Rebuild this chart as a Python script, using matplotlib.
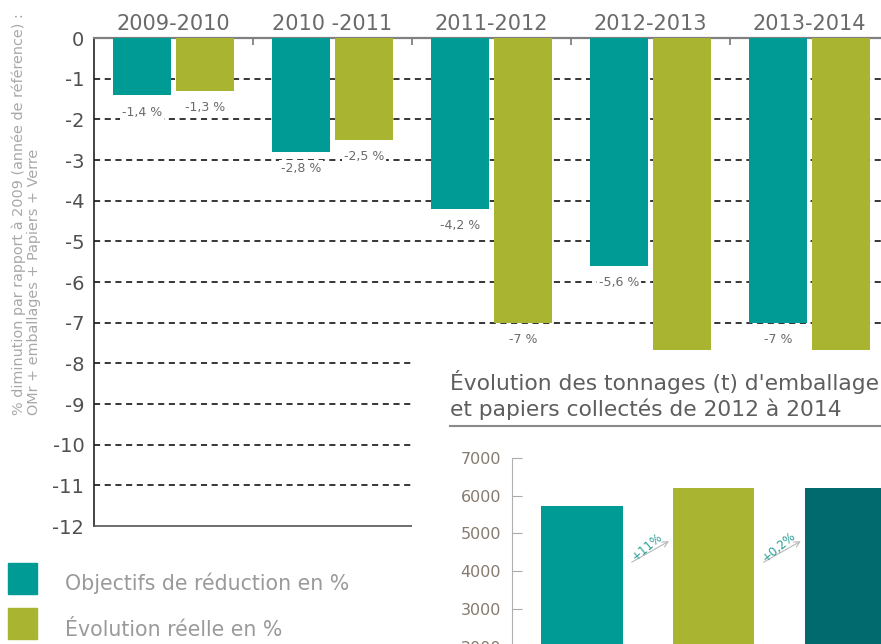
import matplotlib.pyplot as plt
import matplotlib.patches as mpatches
import numpy as np

plt.rcParams['font.family'] = 'DejaVu Sans'
plt.rcParams['axes.unicode_minus'] = False

# objectifs vs evolution reelle (% par rapport a 2009)
periodes = ['2009-2010', '2010 -2011', '2011-2012', '2012-2013', '2013-2014']
objectifs = [-1.4, -2.8, -4.2, -5.6, -7.0]
reel = [-1.3, -2.5, -7.0, -8.6, -9.0]
lbl_obj = ['-1,4 %', '-2,8 %', '-4,2 %', '-5,6 %', '-7 %']
lbl_reel = ['-1,3 %', '-2,5 %', '-7 %', '', '']

# tonnages emballages + papiers
annees = ['2012', '2013', '2014']
tonnages = [5720, 6200, 6210]
evol = ['+11%', '+0,2%']

TEAL = '#009b94'
OLIVE = '#a9b531'
DARK = '#006a6e'

fig = plt.figure(figsize=(8.81, 6.44), dpi=100)

W, H = 881, 644
def box(x0, y0, x1, y1):
    return [x0 / W, 1 - y1 / H, (x1 - x0) / W, (y1 - y0) / H]

ax = fig.add_axes(box(94, 38, 881, 526))
x = np.arange(len(periodes))
bw = 0.365
off = 0.198
ax.bar(x - off, objectifs, bw, color=TEAL, zorder=3)
ax.bar(x + off, reel, bw, color=OLIVE, zorder=3)

for i in range(len(x)):
    ax.text(x[i] - off, objectifs[i] - 0.42, lbl_obj[i], ha='center', va='center',
            fontsize=9, color='#6a6a6a', zorder=4,
            bbox=dict(facecolor='white', edgecolor='none', pad=1.5))
    if lbl_reel[i]:
        ax.text(x[i] + off, reel[i] - 0.42, lbl_reel[i], ha='center', va='center',
                fontsize=9, color='#6a6a6a', zorder=4,
                bbox=dict(facecolor='white', edgecolor='none', pad=1.5))

ax.set_xlim(-0.5, 4.45)
ax.set_ylim(-12, 0)
yt = np.arange(0, -13, -1)
ax.set_yticks(yt)
ax.set_yticklabels([str(v) for v in yt], fontsize=14, color='#505050')
ax.tick_params(axis='y', length=0, pad=7)

ax.xaxis.tick_top()
ax.set_xticks(x)
ax.set_xticklabels(periodes, fontsize=15, color='#6a6a6a')
ax.set_xticks(x[:-1] + 0.5, minor=True)
ax.tick_params(axis='x', which='major', length=0, pad=3)
ax.tick_params(axis='x', which='minor', direction='in', length=5, color='#777777', width=1.2)

for v in yt[1:-1]:
    ax.axhline(v, color='black', lw=1.1, ls=(0, (4, 3)), zorder=1)

ax.spines['right'].set_visible(False)
ax.spines['top'].set_color('#808080')
ax.spines['top'].set_linewidth(1.6)
ax.spines['left'].set_color('#222222')
ax.spines['left'].set_linewidth(1.2)
ax.spines['bottom'].set_color('#555555')
ax.spines['bottom'].set_linewidth(1.2)

fig.text(12 / W, 1 - 415 / H,
         '% diminution par rapport à 2009 (année de référence) :\nOMr + emballages + Papiers + Verre',
         rotation=90, ha='left', va='bottom', multialignment='left',
         fontsize=10.4, color='#a8a8a8', linespacing=1.05)

# legende
fig.patches.append(mpatches.Rectangle((8 / W, 1 - 594 / H), 29 / W, 31 / H,
                                      transform=fig.transFigure, color=TEAL))
fig.patches.append(mpatches.Rectangle((8 / W, 1 - 639 / H), 29 / W, 31 / H,
                                      transform=fig.transFigure, color=OLIVE))
fig.text(65 / W, 1 - 583 / H, 'Objectifs de réduction en %', fontsize=14.8,
         color='#9a9a9a', va='center')
fig.text(65 / W, 1 - 630 / H, 'Évolution réelle en %', fontsize=14.8,
         color='#9a9a9a', va='center')

# encart tonnages
bg = fig.add_axes(box(412, 350, 881, 644))
bg.set_facecolor('white')
bg.set_xticks([])
bg.set_yticks([])
for s in bg.spines.values():
    s.set_visible(False)
bg.set_zorder(5)

fig.text(450 / W, 1 - 382 / H, "Évolution des tonnages (t) d'emballage",
         fontsize=15.7, color='#5e5e5e', va='center', zorder=6)
fig.text(450 / W, 1 - 409 / H, 'et papiers collectés de 2012 à 2014',
         fontsize=15.7, color='#5e5e5e', va='center', zorder=6)
fig.add_artist(plt.Line2D([450 / W, 1], [1 - 426 / H] * 2, color='#8a8a8a', lw=1.5, zorder=6))

ins = fig.add_axes(box(512, 458, 881, 458 + 7 * 37.7))
ins.set_zorder(6)
ins.patch.set_alpha(0)
xi = np.arange(len(annees))
ins.bar(xi, tonnages, 0.62, color=[TEAL, OLIVE, DARK])
ins.set_xlim(-0.53, 2.27)
ins.set_ylim(0, 7000)
ins.set_yticks(np.arange(1000, 8000, 1000))
ins.tick_params(axis='y', direction='in', length=7, color='#aaaaaa', labelsize=11.5,
                labelcolor='#857a6e', pad=8)
ins.set_xticks([])
for k in ['top', 'right', 'bottom']:
    ins.spines[k].set_visible(False)
ins.spines['left'].set_color('#b0b0b0')

for j, t in enumerate(evol):
    xm = j + 0.5
    ins.annotate('', xy=(xm + 0.18, 4830), xytext=(xm - 0.14, 4200),
                 arrowprops=dict(arrowstyle='->', color='#b8b8b8', lw=0.8))
    ins.text(xm, 4640, t, rotation=40, ha='center', va='center',
             fontsize=8.5, color='#2a9e96')

fig.savefig('out.png', dpi=100)
